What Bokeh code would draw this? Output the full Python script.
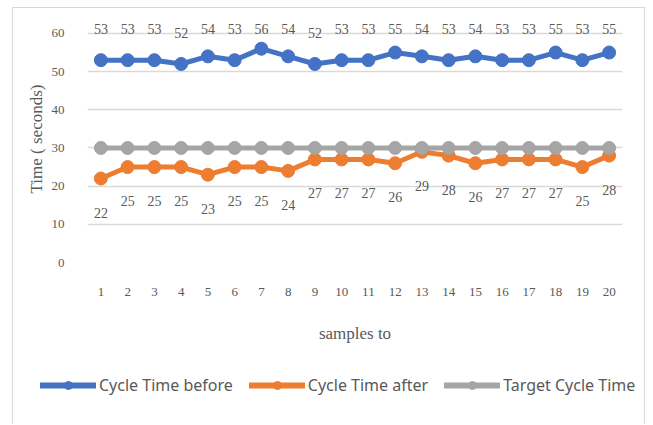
import numpy as np
from bokeh.plotting import figure
from bokeh.layouts import column
from bokeh.models import FixedTicker, Legend, LegendItem, ColumnDataSource
from bokeh.core.properties import value
from bokeh.embed import file_html
from bokeh.resources import INLINE

samples = list(range(1, 21))
tick_labels = [str(s) for s in samples]
cycle_before = [53, 53, 53, 52, 54, 53, 56, 54, 52, 53, 53, 55, 54, 53, 54, 53, 53, 55, 53, 55]
cycle_after = [22, 25, 25, 25, 23, 25, 25, 24, 27, 27, 27, 26, 29, 28, 26, 27, 27, 27, 25, 28]
target = [30] * 20
y_ticks = [0, 10, 20, 30, 40, 50, 60]

BLUE = "#4472C4"
ORANGE = "#ED7D31"
GRAY = "#A5A5A5"
TXT = "#595959"
SERIF = "Liberation Serif"

series = (("before", BLUE, "Cycle Time before"),
          ("after", ORANGE, "Cycle Time after"),
          ("target", GRAY, "Target Cycle Time"))

src = ColumnDataSource(dict(x=samples, before=cycle_before, after=cycle_after, target=target,
                            before_lbl=[str(v) for v in cycle_before],
                            after_lbl=[str(v) for v in cycle_after],
                            before_y=np.minimum(np.array(cycle_before), 53)))

p = figure(width=631, height=352, output_backend="svg", toolbar_location=None,
           x_range=(0.5, 20.5), y_range=(0, 64.7),
           min_border_left=74, min_border_right=22, min_border_top=7, min_border_bottom=98)
p.frame_align = False
p.outline_line_color = None
p.xgrid.visible = False
p.ygrid.grid_line_color = "#D9D9D9"
p.ygrid.grid_line_width = 1.5

p.yaxis.ticker = FixedTicker(ticks=y_ticks)
p.xaxis.ticker = FixedTicker(ticks=samples)
p.xaxis.major_label_overrides = {s: l for s, l in zip(samples, tick_labels)}
for ax in (p.xaxis[0], p.yaxis[0]):
    ax.axis_line_color = None
    ax.major_tick_line_color = None
    ax.minor_tick_line_color = None
    ax.major_label_text_font = SERIF
    ax.major_label_text_font_size = "13px"
    ax.major_label_text_color = TXT
    ax.axis_label_text_font = SERIF
    ax.axis_label_text_font_size = "17px"
    ax.axis_label_text_font_style = "normal"
    ax.axis_label_text_color = TXT
p.yaxis.axis_label = "Time ( seconds)"
p.xaxis.axis_label = "samples to"
p.yaxis.major_label_standoff = 17
p.yaxis.axis_label_standoff = 3
p.xaxis.major_label_standoff = 19
p.xaxis.axis_label_standoff = 25

for col, color, name in series:
    p.line("x", col, source=src, line_color=color, line_width=5,
           line_join="round", line_cap="round")
    p.scatter("x", col, source=src, size=13, fill_color=color, line_color=color)

p.text("x", "before_y", text="before_lbl", source=src, y_offset=-31,
       text_font=value(SERIF), text_font_size="14px", text_color=TXT,
       text_align="center", text_baseline="middle")
p.text("x", "after", text="after_lbl", source=src, y_offset=34,
       text_font=value(SERIF), text_font_size="14px", text_color=TXT,
       text_align="center", text_baseline="middle")

# legend strip (series drawn out of view; only the legend shows)
lg = figure(width=631, height=64, output_backend="svg", toolbar_location=None,
            x_range=(0.5, 20.5), y_range=(100, 101), x_axis_type=None, y_axis_type=None,
            min_border=0)
lg.frame_align = False
lg.outline_line_color = None
lg.grid.visible = False
items = []
for col, color, name in series:
    lr = lg.line("x", col, source=src, line_color=color, line_width=6, line_cap="round")
    sr = lg.scatter("x", col, source=src, size=13, fill_color=color, line_color=color)
    items.append(LegendItem(label=name, renderers=[lr, sr]))
legend = Legend(items=items, orientation="horizontal", location=(27, 28),
                glyph_width=56, glyph_height=20, label_standoff=3, spacing=16,
                padding=0, margin=0, border_line_alpha=0, background_fill_alpha=0,
                label_text_font="Noto Sans", label_text_font_size="16px",
                label_text_color=TXT)
lg.add_layout(legend, "center")

layout = column(p, lg, spacing=0, margin=(7, 0, 0, 12),
                styles={"border-left": "1.5px solid #D9D9D9",
                        "border-top": "1.5px solid #D9D9D9",
                        "border-right": "1.5px solid #D9D9D9"})
open("out.html", "w").write(file_html(layout, INLINE))
